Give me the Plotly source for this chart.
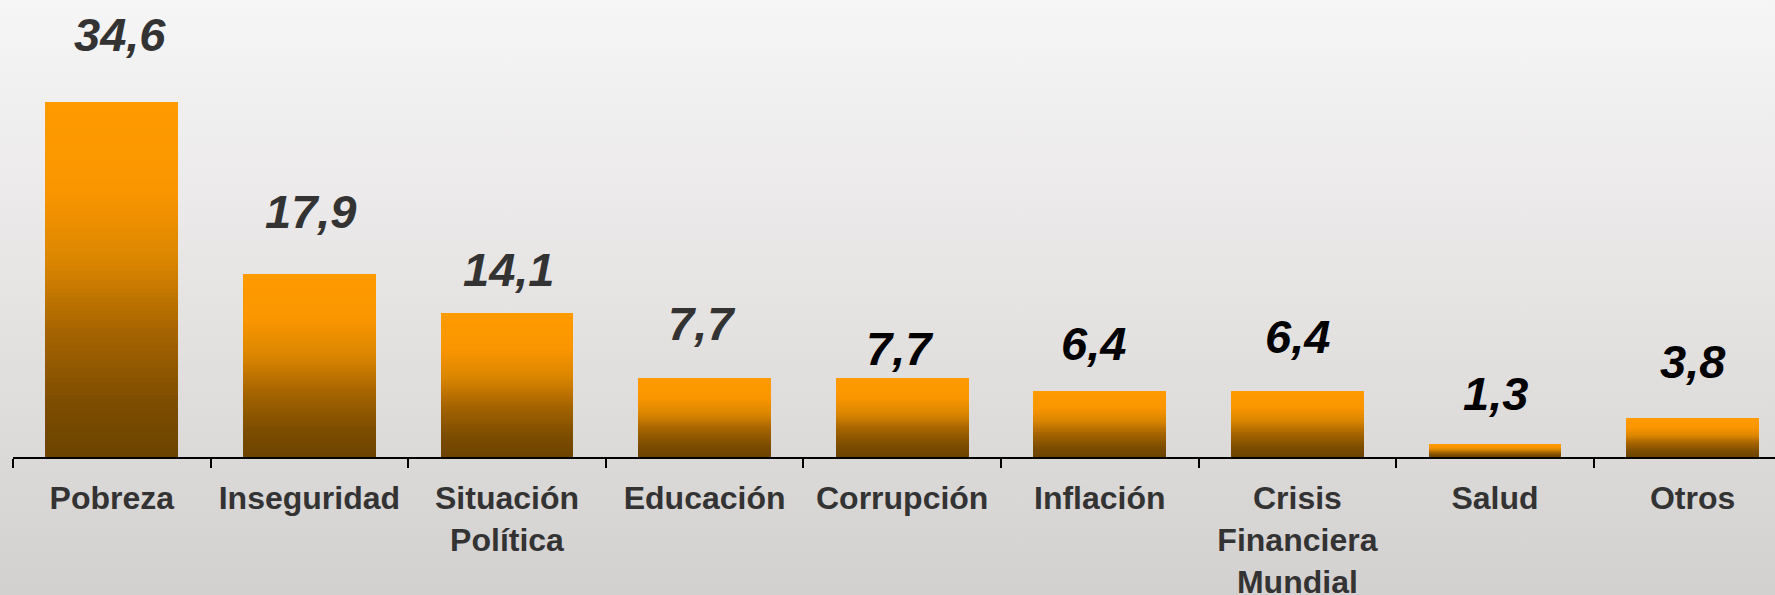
import base64
import plotly.graph_objects as go

# ---------------- data ----------------
CATEGORIES = ["Pobreza", "Inseguridad", "Situación<br>Política", "Educación",
              "Corrupción", "Inflación", "Crisis<br>Financiera<br>Mundial",
              "Salud", "Otros"]
VALUES = [34.6, 17.9, 14.1, 7.7, 7.7, 6.4, 6.4, 1.3, 3.8]
VALUE_LABELS = ["34,6", "17,9", "14,1", "7,7", "7,7", "6,4", "6,4", "1,3", "3,8"]

# ---------------- styles ----------------
LABEL_COLORS = ["#333333", "#333333", "#333333", "#333333",
                "#000000", "#000000", "#000000", "#000000", "#000000"]
LABEL_LIFT_PX = [68, 62, 43, 55, 30, 48, 55, 50, 57]
LABEL_DX_PX = [8, 1, 1, -3, -3, -6, 0, 0, 0]

# gradient stops (fraction from top of bar, rgb)
GRAD_STOPS = [(0.0, (255, 154, 0)), (0.25, (250, 150, 0)), (0.45, (218, 133, 0)),
              (0.65, (165, 100, 0)), (0.85, (125, 77, 0)), (1.0, (108, 67, 0))]
N_SEG = 80


def grad_color(f):
    for (f0, c0), (f1, c1) in zip(GRAD_STOPS[:-1], GRAD_STOPS[1:]):
        if f0 <= f <= f1:
            t = (f - f0) / (f1 - f0)
            return "rgb(%d,%d,%d)" % tuple(round(a + (b - a) * t) for a, b in zip(c0, c1))
    return "rgb(%d,%d,%d)" % GRAD_STOPS[-1][1]


fig = go.Figure()
for i in range(N_SEG):
    frac_from_top = 1 - (i + 0.5) / N_SEG
    fig.add_trace(go.Bar(
        x=CATEGORIES,
        y=[v / N_SEG for v in VALUES],
        marker=dict(color=grad_color(frac_from_top), line=dict(width=0)),
        width=0.673,
        hoverinfo="skip",
        showlegend=False,
    ))

for cat, v, txt, col, lift, dx in zip(CATEGORIES, VALUES, VALUE_LABELS,
                                      LABEL_COLORS, LABEL_LIFT_PX, LABEL_DX_PX):
    fig.add_annotation(
        x=cat, y=v, text=txt, showarrow=False,
        xanchor="center", yanchor="middle", yshift=lift, xshift=dx,
        font=dict(family="Liberation Sans", size=47, color=col,
                  weight="bold", style="italic"),
    )

# background gradient as svg image
svg = ('<svg xmlns="http://www.w3.org/2000/svg" width="100" height="100" '
       'preserveAspectRatio="none">'
       '<defs><linearGradient id="g" x1="0" y1="0" x2="0" y2="1">'
       '<stop offset="0" stop-color="#f6f6f6"/>'
       '<stop offset="0.5" stop-color="#e6e3e3"/>'
       '<stop offset="1" stop-color="#d3d0d0"/>'
       '</linearGradient></defs>'
       '<rect width="100" height="100" fill="url(#g)"/></svg>')
src = "data:image/svg+xml;base64," + base64.b64encode(svg.encode()).decode()

W, H = 1775, 595
ML, MR, MT, MB = 13, 0, 0, 138
pw, ph = W - ML - MR, H - MT - MB

fig.add_layout_image(
    source=src, xref="paper", yref="paper",
    x=-ML / pw, y=1 + MT / ph, sizex=W / pw, sizey=H / ph,
    xanchor="left", yanchor="top", sizing="stretch", layer="below",
)

fig.update_layout(
    template="none",
    width=W, height=H,
    margin=dict(l=ML, r=MR, t=MT, b=MB, pad=0, autoexpand=False),
    barmode="stack", bargap=0,
    paper_bgcolor="#dcd9d9", plot_bgcolor="rgba(0,0,0,0)",
    showlegend=False,
    xaxis=dict(
        type="category", range=[-0.5, 8.417], automargin=False,
        showline=True, linecolor="black", linewidth=2,
        ticks="outside", tickson="boundaries", ticklen=9, tickwidth=2,
        tickcolor="black", showgrid=False, zeroline=False,
        tickfont=dict(family="Liberation Sans", size=32, color="#333333",
                      weight="bold"),
        ticklabelstandoff=12,
    ),
    yaxis=dict(range=[0, 44.6], visible=False, showgrid=False, zeroline=False,
               automargin=False),
)

fig.write_html(
    "out.html",
    config={"displayModeBar": False, "staticPlot": True},
    post_script="document.body.style.margin='0';document.body.style.overflow='hidden';",
)
